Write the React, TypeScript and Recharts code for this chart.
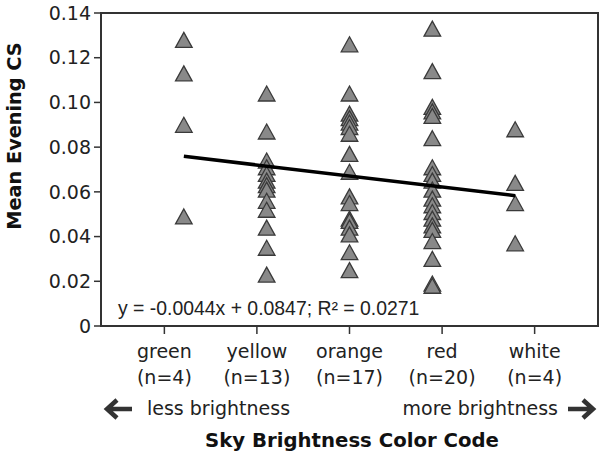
import { ScatterChart, Scatter, XAxis, YAxis, ReferenceArea } from 'recharts';

const categories = ['green', 'yellow', 'orange', 'red', 'white'];
const categoryX = [2, 3, 4, 5, 6];
const labelTicks = [1.765, 2.882, 4, 5.118, 6.235];
const yTicks = [0, 0.02, 0.04, 0.06, 0.08, 0.1, 0.12, 0.14];

const greenCS = [0.128, 0.113, 0.090, 0.049];
const yellowCS = [0.104, 0.087, 0.074, 0.071, 0.068, 0.065, 0.063, 0.061, 0.056, 0.052, 0.044, 0.035, 0.023];
const orangeCS = [0.126, 0.104, 0.095, 0.093, 0.091, 0.089, 0.086, 0.077, 0.069, 0.058, 0.055, 0.048, 0.047, 0.044, 0.041, 0.033, 0.025];
const redCS = [0.133, 0.114, 0.098, 0.096, 0.094, 0.084, 0.071, 0.068, 0.065, 0.061, 0.057, 0.054, 0.051, 0.048, 0.045, 0.043, 0.038, 0.030, 0.019, 0.018];
const whiteCS = [0.088, 0.064, 0.055, 0.037];

const slope = -0.0044;
const intercept = 0.0847;
const rSquared = 0.0271;

const groups = [greenCS, yellowCS, orangeCS, redCS, whiteCS];
const FONT = 'DejaVu Sans';
const INK = '#222';

const Triangle = (props: any) => {
  const { cx, cy } = props;
  if (cx == null || cy == null) return <g />;
  return (
    <polygon
      points={`${cx},${cy - 7.5} ${cx + 8.3},${cy + 7.5} ${cx - 8.3},${cy + 7.5}`}
      fill="#898989"
      stroke="#3a3a3a"
      strokeWidth={1.3}
    />
  );
};

const CatTick = ({ x, y, payload }: any) => {
  const i = labelTicks.indexOf(payload.value);
  if (i < 0) return null;
  return (
    <text x={x} y={y} textAnchor="middle" fontSize={19} fontFamily={FONT} fill={INK}>
      <tspan x={x} dy={22}>{categories[i]}</tspan>
      <tspan x={x} dy={26}>(n={groups[i].length})</tspan>
    </text>
  );
};

const BottomNotes = () => (
  <g>
    <text x={118} y={315} fontSize={19.4} fontFamily="Liberation Sans" fill={INK}>
      {`y = ${slope}x + ${intercept}; R² = ${rSquared}`}
    </text>
    <path d="M132 409 H108 M117 400 L107 409 L117 418" stroke="#333" strokeWidth={4.5} fill="none" />
    <text x={147} y={415} fontSize={19} fontFamily={FONT} fill={INK}>less brightness</text>
    <text x={558} y={415} fontSize={19} fontFamily={FONT} fill={INK} textAnchor="end">more brightness</text>
    <path d="M568 409 H592 M583 400 L593 409 L583 418" stroke="#333" strokeWidth={4.5} fill="none" />
    <text x={352} y={447} fontSize={19.7} fontWeight="bold" fontFamily={FONT} fill="#111" textAnchor="middle">
      Sky Brightness Color Code
    </text>
  </g>
);

const LeftTitle = () => (
  <text
    x={20.5}
    y={136}
    transform="rotate(-90 20.5 136)"
    textAnchor="middle"
    fontSize={19.3}
    fontWeight="bold"
    fontFamily={FONT}
    fill="#111"
  >
    Mean Evening CS
  </text>
);

export default function App() {
  const series = groups.map((vals, i) => vals.map(v => ({ x: categoryX[i], y: v })));
  const x0 = categoryX[0];
  const x1 = categoryX[categoryX.length - 1];
  const trend = [
    { x: x0, y: intercept + slope * x0 },
    { x: x1, y: intercept + slope * x1 },
  ];

  return (
    <div style={{ position: 'absolute', left: 0, top: 0, background: '#fff' }}>
      <ScatterChart width={601} height={454} margin={{ top: 13, right: 3, left: 41, bottom: 0 }}>
        <ReferenceArea x1={1} x2={7} y1={0} y2={0.14} fill="none" stroke="#333" strokeWidth={2} />
        <XAxis
          type="number"
          dataKey="x"
          domain={[1, 7]}
          ticks={labelTicks}
          height={128}
          tickSize={8}
          tick={<CatTick />}
          axisLine={{ stroke: '#333', strokeWidth: 2 }}
          tickLine={{ stroke: '#333', strokeWidth: 1.5 }}
          interval={0}
          label={<BottomNotes />}
        />
        <YAxis
          type="number"
          dataKey="y"
          domain={[0, 0.14]}
          ticks={yTicks}
          width={60}
          tickSize={7}
          tickMargin={3}
          interval={0}
          tickFormatter={(v: number) => (v === 0 ? '0' : v.toFixed(2))}
          tick={{ fontSize: 19, fontFamily: FONT, fill: INK }}
          axisLine={{ stroke: '#333', strokeWidth: 2 }}
          tickLine={{ stroke: '#333', strokeWidth: 1.5 }}
          label={<LeftTitle />}
        />
        {series.map((d, i) => (
          <Scatter key={categories[i]} data={d} shape={<Triangle />} isAnimationActive={false} />
        ))}
        <Scatter
          data={trend}
          line={{ stroke: '#000', strokeWidth: 3.5 }}
          shape={() => <g />}
          isAnimationActive={false}
        />
      </ScatterChart>
    </div>
  );
}
